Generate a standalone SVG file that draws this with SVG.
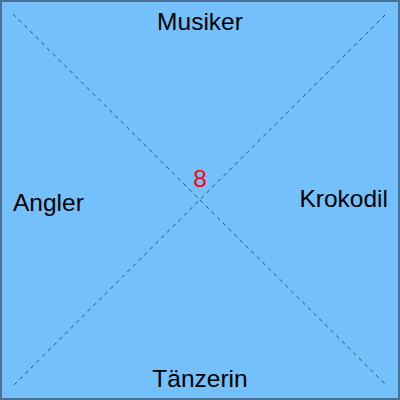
<svg xmlns="http://www.w3.org/2000/svg" width="400" height="400" viewBox="0 0 400 400">
<style>
.lbl{font-family:"Liberation Sans",Arial,sans-serif;font-size:24.5px;fill:#000}
.num{font-family:"Liberation Sans",Arial,sans-serif;font-size:24.5px;fill:#ff0000}
.diag{stroke:#1e3550;stroke-width:0.8;stroke-dasharray:4 4;fill:none}
</style>
<rect x="1" y="1" width="398" height="398" fill="#73c0fb" stroke="#4a7096" stroke-width="2"/>
<g id="connectors">
<line class="diag" x1="13" y1="14" x2="385" y2="384"/>
<line class="diag" x1="385" y1="15" x2="13" y2="386"/>
</g>
<g id="musiker"><text class="lbl" x="200" y="30" text-anchor="middle">Musiker</text></g>
<g id="taenzerin"><text class="lbl" x="200" y="387" text-anchor="middle">Tänzerin</text></g>
<g id="angler"><text class="lbl" x="13" y="211">Angler</text></g>
<g id="krokodil"><text class="lbl" x="388" y="207" text-anchor="end">Krokodil</text></g>
<g id="center"><text class="num" x="200" y="187" text-anchor="middle">8</text></g>
</svg>
